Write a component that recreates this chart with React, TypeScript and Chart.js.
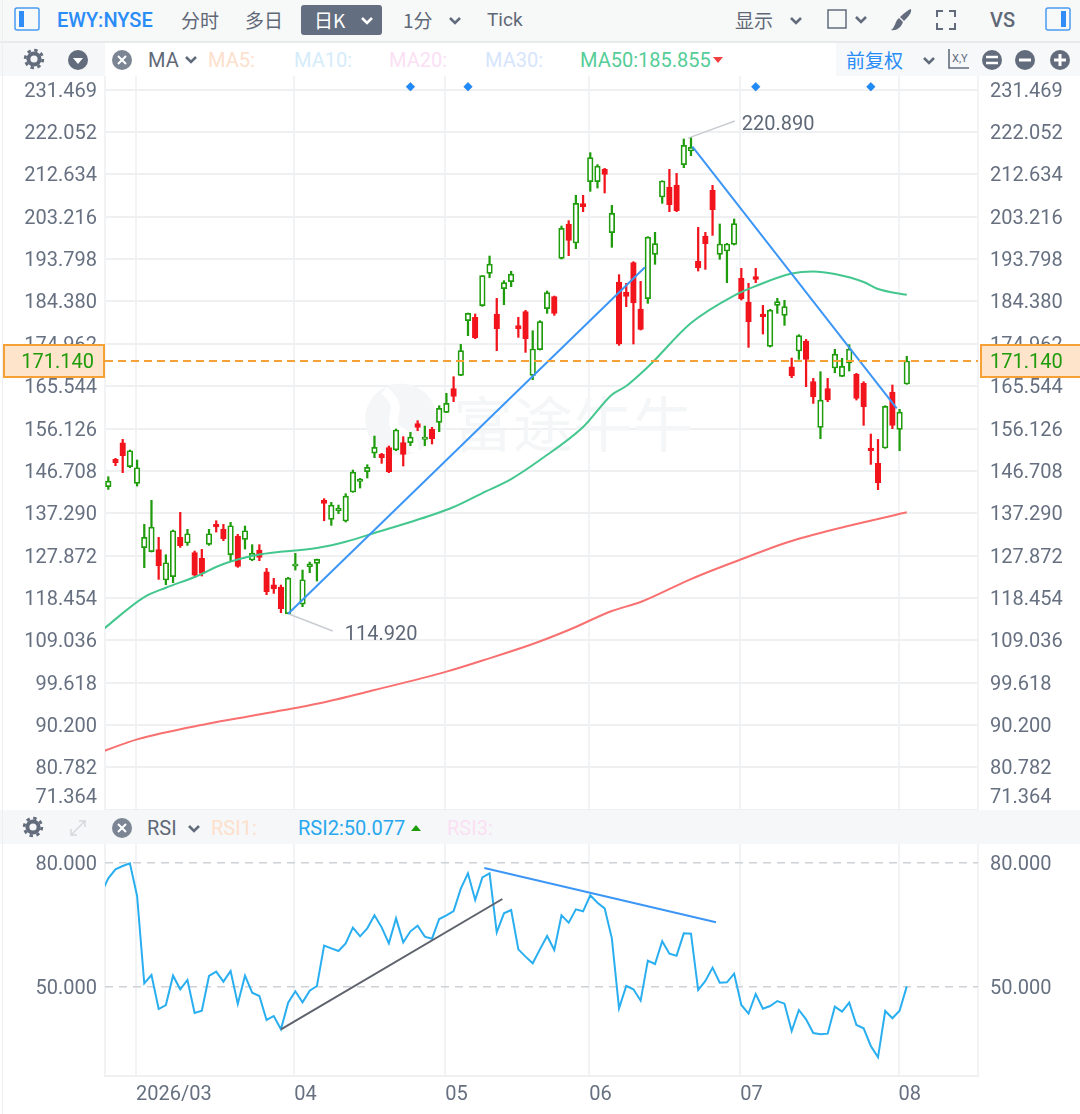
import { useEffect, useRef } from "react";
import Chart from "chart.js/auto";

const open = [143.19,149.26,152.97,147.63,143.93,129.62,128.73,129.18,122.43,123.17,131.92,130.66,128.51,127.25,130.36,134.88,133.70,128.06,132.21,131.47,126.88,129.10,124.28,121.39,120.87,114.94,125.54,117.09,125.39,126.14,140.15,135.92,137.85,135.55,142.00,144.37,146.52,150.67,150.38,151.87,151.35,152.98,152.97,157.20,153.72,155.94,157.50,159.72,164.98,167.95,180.11,180.85,183.44,190.63,181.59,187.22,188.78,178.99,182.11,167.95,173.66,182.78,185.44,193.97,201.61,197.38,206.13,211.02,211.02,213.76,199.68,188.71,186.48,193.01,182.70,185.00,194.86,207.61,209.83,210.28,214.80,217.84,193.30,198.94,209.09,194.86,195.60,197.08,189.52,184.26,189.89,181.59,174.40,183.51,181.29,169.87,173.36,175.58,166.54,156.38,164.98,169.58,167.72,170.69,168.17,166.17,151.79,148.38,151.79,164.24,155.94,166.02];
const high = [145.41,149.49,153.71,151.34,149.12,134.81,140.15,131.92,128.06,133.55,137.48,133.70,128.88,129.25,133.70,135.62,134.81,135.25,132.59,134.44,130.29,130.29,125.02,122.80,121.32,123.02,128.36,124.65,126.43,127.10,140.52,139.70,139.11,141.63,146.89,145.04,148.08,154.45,150.61,152.24,156.02,154.31,155.27,157.87,156.68,156.39,161.20,163.95,167.65,174.84,181.81,181.59,190.11,194.49,185.07,189.00,191.08,180.85,182.40,177.88,180.11,186.70,185.59,201.16,202.35,207.98,207.98,217.47,214.80,213.99,205.76,190.34,188.41,193.23,188.85,198.79,199.75,211.24,213.76,212.87,220.51,220.89,200.86,199.75,210.20,201.61,197.31,202.72,191.74,188.41,191.74,183.51,182.62,185.07,184.63,171.80,176.99,175.95,167.28,168.76,167.28,173.73,171.73,174.77,168.39,166.54,154.90,153.71,161.20,165.80,160.39,172.17];
const low = [142.59,147.86,146.30,147.41,143.33,125.17,128.66,122.58,121.39,121.84,129.69,130.14,122.95,123.32,130.14,133.10,131.18,126.73,125.25,129.32,126.73,126.73,119.17,119.46,115.16,114.92,124.65,116.50,124.06,122.21,135.62,134.59,137.18,135.33,141.93,142.89,145.11,149.64,148.38,146.31,151.20,147.79,152.31,155.64,152.31,152.68,155.42,159.65,162.09,167.88,176.77,176.10,183.29,189.67,173.43,183.66,187.67,176.40,173.06,166.99,173.58,181.74,181.29,193.82,194.56,196.12,204.35,208.87,209.61,208.50,196.42,174.62,183.22,174.92,178.03,183.96,192.64,206.20,204.35,204.35,214.13,216.80,191.15,191.52,199.08,193.75,188.56,196.94,184.70,174.17,188.56,177.14,174.25,181.74,179.07,167.43,171.51,165.43,161.72,153.86,162.09,168.54,167.65,168.91,162.46,156.83,148.15,142.52,151.71,156.09,151.19,165.95];
const close = [144.45,148.52,150.08,151.19,147.41,131.92,134.22,125.62,126.28,133.40,130.06,132.73,123.54,123.91,132.73,134.22,131.62,134.51,125.47,133.40,128.43,127.47,119.84,120.50,116.05,122.87,125.99,122.50,126.06,127.03,139.48,139.11,138.37,141.11,146.45,144.89,147.49,151.93,149.64,146.53,155.80,150.38,154.23,156.38,154.23,153.86,160.61,161.72,163.28,173.43,181.74,176.33,190.11,192.71,178.33,188.56,190.48,178.33,176.10,173.81,179.88,186.33,181.74,200.64,197.97,206.20,205.46,216.36,214.50,212.65,203.98,174.92,185.52,184.04,178.18,198.71,197.23,211.17,205.90,204.57,219.10,218.66,191.89,197.23,204.79,197.16,197.16,201.68,185.00,179.88,189.30,180.99,182.48,184.33,183.22,167.80,176.77,171.51,163.20,162.46,162.46,172.69,169.95,173.80,162.83,160.98,151.19,144.08,161.05,156.83,159.79,171.14];

const ma50Days = [-1,5,8,12,16,21,29,33,37,45,48,52,56,60,66,70,72,75,81,87,90,95,98,101,105,107,111];
const ma50 = [111.09,118.65,120.72,123.10,125.99,128.10,129.55,130.95,132.89,136.89,138.67,141.78,144.89,149.12,156.46,163.64,165.58,169.80,179.59,185.70,187.81,190.59,191.04,190.48,188.70,187.15,185.86];
const ma200Days = [-1,4,14,20,29,37,47,52,59,64,70,74,81,87,95,104,111];
const ma200 = [84.18,87.00,90.52,92.25,94.90,97.97,102.06,104.53,108.20,111.31,115.54,117.54,122.65,126.44,131.11,134.89,137.49];

const rsiDays = [-1,0,1,2,3,4,5,6,7,8,9,10,11,12,13,14,15,16,17,18,19,20,21,22,23,24,25,26,27,28,29,30,31,32,33,34,35,36,37,38,39,40,41,42,43,44,45,46,47,48,49,50,51,52,53,54,55,56,57,58,59,60,61,62,63,64,65,66,67,68,69,70,71,72,73,74,75,76,77,78,79,80,81,82,83,84,85,86,87,88,89,90,91,92,93,94,95,96,97,98,99,100,101,102,103,104,105,106,107,108,109,110,111];
const rsi = [72.6,76.22,78.40,79.20,79.85,71.95,50.82,52.83,44.60,45.57,52.67,49.37,51.62,43.64,44.20,52.59,53.64,51.22,53.80,45.82,52.67,48.56,47.75,41.95,42.91,39.69,46.14,48.88,46.22,49.04,50.17,59.93,59.28,58.64,60.49,64.28,62.19,64.12,67.27,64.36,60.49,66.54,60.74,63.40,64.77,62.11,61.62,66.38,67.27,68.32,73.72,77.43,70.98,76.46,77.43,63.16,67.75,68.56,59.04,57.27,55.66,59.04,62.27,58.88,67.27,65.49,68.72,68.24,72.11,70.33,68.96,61.70,44.77,50.17,49.37,46.62,56.30,55.49,60.98,58.00,57.51,62.91,62.83,49.20,51.38,54.61,50.98,51.06,53.16,45.57,43.48,48.24,44.69,45.33,46.54,45.90,39.28,44.36,42.11,38.80,38.48,38.64,45.17,43.96,46.14,40.74,39.93,35.65,32.91,44.12,42.35,44.20,50.08];

const priceTicks = [231.469,222.052,212.634,203.216,193.798,184.38,174.962,165.544,156.126,146.708,137.29,127.872,118.454,109.036,99.618,90.2,80.782,71.364];
const rsiTicks = [80, 50];
const monthDays = [3.85,25.85,46.85,66.85,87.85,109.85];
const monthLabels = ["2026/03","04","05","06","07","08"];
const markerDays = [42,50,90,106];
const markerLevel = 232.14;
const lastPrice = 171.14;

const riseTrend = { x: [25, 74.6], y: [114.92, 191.97] };
const fallTrend = { x: [81.2, 109.6], y: [218.79, 160.62] };
const lowLeader = { x: [25, 31.2], y: [114.92, 111.09], text: "114.920", gap: 12 };
const highLeader = { x: [80.6, 87.1], y: [220.7, 224.51], text: "220.890", gap: 7 };
const rsiRise = { x: [24, 54.78], y: [39.69, 71.22] };
const rsiFall = { x: [52.27, 84.48], y: [78.72, 65.58] };

const xMin = -0.46;
const xMax = 120.9;
const GRID = "#eef0f2";
const TEXT = "#667080";
const GREEN = "#1f9c0c";
const RED = "#f2141c";
const FONT = "Roboto, sans-serif";

const days = open.map((_, i) => i);
const pairs = (xs: number[], ys: number[]) => xs.map((x, i) => ({ x, y: ys[i] }));
const up = (i: number) => close[i] >= open[i];

const sideAxis = (position: string, width: number, show: boolean, ticks: number[], label: (v: number) => string, opts: any = {}) => ({
  position,
  grid: { drawOnChartArea: show, drawTicks: false, color: GRID, lineWidth: 2, ...opts.grid },
  border: { display: false, ...opts.border },
  ticks: {
    autoSkip: false,
    padding: position === "left" ? 8 : 12,
    labelOffset: 2,
    color: TEXT,
    font: { family: FONT, size: 20 },
    callback: label,
  },
  afterBuildTicks: (s: any) => {
    s.ticks = ticks.map((value) => ({ value }));
  },
  afterFit: (s: any) => {
    s.width = width;
    s.paddingTop = 0;
    s.paddingBottom = 0;
  },
  min: opts.min,
  max: opts.max,
});

const monthAxis = (height: number, showLabels: boolean) => ({
  type: "linear",
  min: xMin,
  max: xMax,
  offset: false,
  grid: { drawTicks: false, offset: false, color: "#f1f3f4", lineWidth: 2 },
  border: { display: showLabels, color: GRID, width: 2 },
  ticks: {
    display: showLabels,
    autoSkip: false,
    align: "start",
    maxRotation: 0,
    padding: 7,
    color: TEXT,
    font: { family: FONT, size: 20 },
    callback: (v: number) => monthLabels[monthDays.indexOf(v)] ?? "",
  },
  afterBuildTicks: (s: any) => {
    s.ticks = [xMin, ...monthDays, xMax].map((value) => ({ value }));
  },
  afterFit: (s: any) => {
    s.height = height;
    s.paddingLeft = 0;
    s.paddingRight = 0;
  },
});

const thinLine = (data: any[], color: string, width: number, order: number, dash: number[] = []) => ({
  type: "line",
  data,
  borderColor: color,
  borderWidth: width,
  borderDash: dash,
  pointRadius: 0,
  tension: 0,
  order,
});

const maLine = (data: any[], color: string) => ({
  ...thinLine(data, color, 2, 4),
  cubicInterpolationMode: "monotone",
});

const pricePlugin = {
  id: "priceOverlay",
  beforeDatasetsDraw(chart: any) {
    const { ctx } = chart;
    const top = chart.scales.y.getPixelForValue(156.126);
    ctx.save();
    ctx.fillStyle = "#f5f6f7";
    ctx.beginPath();
    ctx.arc(401, top - 9, 36, 0, Math.PI * 2);
    ctx.fill();
    ctx.strokeStyle = "#fff";
    ctx.lineWidth = 9;
    ctx.beginPath();
    ctx.moveTo(384, top - 38);
    ctx.bezierCurveTo(410, top - 18, 380, top - 8, 402, top + 4);
    ctx.bezierCurveTo(412, top + 10, 416, top + 14, 414, top + 24);
    ctx.stroke();
    ctx.font = '60px "Noto Sans CJK SC"';
    ctx.textBaseline = "middle";
    ctx.fillText("富途牛牛", 453, top - 4);
    ctx.restore();
  },
  afterDraw(chart: any) {
    const { ctx } = chart;
    const y = chart.scales.y;
    const tagY = y.getPixelForValue(lastPrice);
    ctx.save();
    ctx.font = `20px ${FONT}`;
    ctx.textBaseline = "middle";
    ctx.fillStyle = TEXT;
    for (const [x, align] of [[97, "right"], [990, "left"]] as [number, CanvasTextAlign][]) {
      ctx.textAlign = align;
      ctx.fillText(priceTicks[priceTicks.length - 1].toFixed(3), x, y.getPixelForValue(71.364) - 12);
    }
    for (const [x, w, tx, align] of [[4, 100, 94, "right"], [981, 100, 990, "left"]] as [number, number, number, CanvasTextAlign][]) {
      ctx.fillStyle = "#fde4ca";
      ctx.strokeStyle = "#f5a136";
      ctx.lineWidth = 2;
      ctx.fillRect(x, tagY - 16, w, 32);
      ctx.strokeRect(x, tagY - 16, w, 32);
      ctx.fillStyle = GREEN;
      ctx.textAlign = align;
      ctx.fillText(lastPrice.toFixed(3), tx, tagY + 2);
    }
    ctx.fillStyle = "#5f6877";
    ctx.textAlign = "left";
    for (const lead of [lowLeader, highLeader]) {
      const px = chart.scales.x.getPixelForValue(lead.x[1]);
      const py = y.getPixelForValue(lead.y[1]);
      ctx.fillText(lead.text, px + lead.gap, py + 4);
    }
    ctx.restore();
  },
};

function PriceChart() {
  const ref = useRef<HTMLCanvasElement>(null);

  useEffect(() => {
    if (!ref.current) return;
    const chart = new Chart(ref.current, {
      type: "bar",
      data: {
        datasets: [
          {
            data: days.map((x) => ({ x, y: [low[x], high[x]] })),
            backgroundColor: days.map((i) => (up(i) ? GREEN : RED)),
            barThickness: 1.6,
            grouped: false,
            order: 6,
          },
          {
            data: days.map((x) => ({ x, y: [open[x], close[x]] })),
            backgroundColor: days.map((i) => (up(i) ? "#fff" : RED)),
            borderColor: days.map((i) => (up(i) ? GREEN : RED)),
            borderWidth: 1.7,
            borderSkipped: false,
            barThickness: 5.6,
            grouped: false,
            order: 5,
          },
          maLine(pairs(ma200Days, ma200), "#f97070"),
          maLine(pairs(ma50Days, ma50), "#44c78e"),
          thinLine(pairs(lowLeader.x, lowLeader.y), "#c9cdd2", 1.5, 3),
          thinLine(pairs(highLeader.x, highLeader.y), "#c9cdd2", 1.5, 3),
          thinLine(pairs(riseTrend.x, riseTrend.y), "#3c96f6", 2, 2),
          thinLine(pairs(fallTrend.x, fallTrend.y), "#3c96f6", 2, 2),
          thinLine(pairs([xMin, xMax], [lastPrice, lastPrice]), "#f5a136", 1.8, 1, [8, 5]),
          {
            type: "scatter",
            data: markerDays.map((x) => ({ x, y: markerLevel })),
            backgroundColor: "#1f8bfa",
            pointStyle: "rectRot",
            pointRadius: 4.5,
            clip: false,
            order: 0,
          },
        ] as any,
      },
      options: {
        responsive: false,
        animation: false,
        layout: { padding: 0, autoPadding: false },
        plugins: { legend: { display: false }, tooltip: { enabled: false } },
        events: [],
        scales: {
          x: monthAxis(0, false) as any,
          y: sideAxis("left", 105, true, priceTicks, (v) => (v === 71.364 ? "" : v.toFixed(3)), {
            min: 71.29,
            max: 234.52,
          }) as any,
          y2: sideAxis("right", 102, false, priceTicks, (v) => (v === 71.364 ? "" : v.toFixed(3)), {
            min: 71.29,
            max: 234.52,
          }) as any,
        },
      },
      plugins: [pricePlugin],
    });
    return () => chart.destroy();
  }, []);

  return <canvas ref={ref} width={1080} height={734} style={{ position: "absolute", left: 0, top: 76 }} />;
}

function RsiChart() {
  const ref = useRef<HTMLCanvasElement>(null);

  useEffect(() => {
    if (!ref.current) return;
    const dashed = { grid: { color: "#ced1d6", lineWidth: 1.5 }, border: { display: false, dash: [8, 6] }, min: 28.39, max: 84.53 };
    const chart = new Chart(ref.current, {
      type: "line",
      data: {
        datasets: [
          thinLine(pairs(rsiDays, rsi), "#29aef0", 2, 3),
          thinLine(pairs(rsiRise.x, rsiRise.y), "#5e626d", 2, 2),
          thinLine(pairs(rsiFall.x, rsiFall.y), "#3c96f6", 2, 1),
        ] as any,
      },
      options: {
        responsive: false,
        animation: false,
        layout: { padding: 0, autoPadding: false },
        plugins: { legend: { display: false }, tooltip: { enabled: false } },
        events: [],
        scales: {
          x: monthAxis(38, true) as any,
          y: sideAxis("left", 105, true, rsiTicks, (v) => v.toFixed(3), dashed) as any,
          y2: sideAxis("right", 102, false, rsiTicks, (v) => v.toFixed(3), dashed) as any,
        },
      },
    });
    return () => chart.destroy();
  }, []);

  return <canvas ref={ref} width={1080} height={270} style={{ position: "absolute", left: 0, top: 844 }} />;
}

const ICON = "#626c7c";

const Txt = ({ x, y, color = "#5f6877", size = 20, weight = 400, family = FONT, children }: any) => (
  <span
    style={{
      position: "absolute",
      left: x,
      top: y - 15,
      height: 30,
      lineHeight: "30px",
      color,
      fontSize: size,
      fontWeight: weight,
      fontFamily: family,
      whiteSpace: "nowrap",
    }}
  >
    {children}
  </span>
);

const CJK = '"Noto Sans CJK SC", sans-serif';

const Svg = ({ x, y, w = 24, h = 24, children }: any) => (
  <svg width={w} height={h} viewBox={`0 0 ${w} ${h}`} style={{ position: "absolute", left: x - w / 2, top: y - h / 2 }}>
    {children}
  </svg>
);

const Chevron = ({ x, y, color = ICON }: any) => (
  <Svg x={x} y={y} w={14} h={10}>
    <path d="M2 2 L7 7 L12 2" fill="none" stroke={color} strokeWidth={2.6} />
  </Svg>
);

const Gear = ({ x, y }: any) => (
  <Svg x={x} y={y}>
    <circle cx={12} cy={12} r={5.6} fill="none" stroke={ICON} strokeWidth={4} />
    <circle cx={12} cy={12} r={8.8} fill="none" stroke={ICON} strokeWidth={2.8} strokeDasharray="3.4 3.5" />
  </Svg>
);

const CloseDisc = ({ x, y }: any) => (
  <Svg x={x} y={y}>
    <circle cx={12} cy={12} r={10} fill="#7b8594" />
    <path d="M8 8 L16 16 M16 8 L8 16" stroke="#fff" strokeWidth={2} />
  </Svg>
);

const Disc = ({ x, y, kind }: any) => (
  <Svg x={x} y={y}>
    <circle cx={12} cy={12} r={10} fill={ICON} />
    {kind === "minus" && <path d="M6 12 H18" stroke="#fff" strokeWidth={3} />}
    {kind === "equal" && <path d="M6 9 H18 M6 15 H18" stroke="#fff" strokeWidth={2.6} />}
    {kind === "plus" && <path d="M6 12 H18 M12 6 V18" stroke="#fff" strokeWidth={3} />}
  </Svg>
);

const Panel = ({ x, y, w, h, bg }: any) => (
  <div style={{ position: "absolute", left: x, top: y, width: w, height: h, background: bg }} />
);

function Toolbars() {
  return (
    <>
      <Panel x={0} y={0} w={1080} h={41} bg="#f7f8f8" />
      <Panel x={0} y={41} w={1080} h={2} bg="#e8eaec" />
      <Panel x={0} y={43} w={105} h={33} bg="#f6f7f8" />
      <Panel x={836} y={43} w={244} h={33} bg="#f6f8f9" />
      <Panel x={0} y={810} w={1080} h={34} bg="#f6f7f8" />
      <Panel x={2} y={0} w={1} h={1114} bg="#eceef0" />

      <Svg x={27} y={20} w={26} h={26}>
        <rect x={1} y={1} width={24} height={22} rx={2} fill="none" stroke="#4a9bf5" strokeWidth={1.5} />
        <rect x={5} y={4} width={5} height={16} fill="#2f8df5" />
      </Svg>
      <Txt x={57} y={20} color="#2a8cf7" weight={500}>EWY:NYSE</Txt>
      <Txt x={181} y={20} family={CJK} size={19}>分时</Txt>
      <Txt x={245} y={20} family={CJK} size={19}>多日</Txt>
      <div style={{ position: "absolute", left: 301, top: 5, width: 81, height: 30, background: "#636e80", borderRadius: 3 }} />
      <Txt x={314} y={20} color="#fff" family={CJK} size={19}>日K</Txt>
      <Chevron x={367} y={21} color="#fff" />
      <Txt x={403} y={20} family={CJK} size={19}>1分</Txt>
      <Chevron x={455} y={21} />
      <Txt x={487} y={20} size={19}>Tick</Txt>

      <Txt x={735} y={20} family={CJK} size={19}>显示</Txt>
      <Chevron x={796} y={21} />
      <Svg x={837} y={19} w={22} h={22}>
        <rect x={2} y={2} width={18} height={18} fill="none" stroke={ICON} strokeWidth={1.5} />
      </Svg>
      <Chevron x={861} y={20} />
      <Svg x={901} y={20}>
        <path d="M22 1 C23 5 19 9 15 13 L11 9 C15 5 19 2 22 1 Z M10 10 L14 14 C12 20 7 23 2 22 C6 20 6 13 10 10 Z" fill={ICON} />
      </Svg>
      <Svg x={946} y={20}>
        <path d="M3 9 V3 H9 M15 3 H21 V9 M21 15 V21 H15 M9 21 H3 V15" fill="none" stroke={ICON} strokeWidth={2} />
      </Svg>
      <Txt x={990} y={20} weight={500}>VS</Txt>
      <Svg x={1058} y={20} w={26} h={26}>
        <rect x={1} y={1} width={24} height={22} rx={2} fill="none" stroke="#4a9bf5" strokeWidth={1.5} />
        <rect x={16} y={4} width={5} height={16} fill="#2f8df5" />
      </Svg>

      <Gear x={34} y={59} />
      <Svg x={78} y={60}>
        <circle cx={12} cy={12} r={10} fill={ICON} />
        <path d="M7 10 H17 L12 16 Z" fill="#fff" />
      </Svg>
      <CloseDisc x={122} y={60} />
      <Txt x={148} y={60}>MA</Txt>
      <Chevron x={191} y={60} />
      <Txt x={208} y={60} color="#fde0cb">MA5:</Txt>
      <Txt x={294} y={60} color="#d5ecfb">MA10:</Txt>
      <Txt x={389} y={60} color="#fbdff5">MA20:</Txt>
      <Txt x={485} y={60} color="#d6e5fd">MA30:</Txt>
      <Txt x={580} y={60} color="#55cd97">MA50:185.855</Txt>
      <Svg x={718} y={60} w={12} h={8}>
        <path d="M1 1 H11 L6 7 Z" fill="#f04040" />
      </Svg>
      <Txt x={846} y={60} color="#2a8cf7" family={CJK} size={19}>前复权</Txt>
      <Chevron x={929} y={61} />
      <Svg x={958} y={60} w={24} h={24}>
        <path d="M3 1 V20 H23" fill="none" stroke={ICON} strokeWidth={1.6} />
        <text x={6} y={14} fontSize={11} fontFamily={FONT} fill={ICON}>X,Y</text>
      </Svg>
      <Disc x={992} y={60} kind="equal" />
      <Disc x={1025} y={60} kind="minus" />
      <Disc x={1060} y={60} kind="plus" />

      <Gear x={33} y={827} />
      <Svg x={78} y={828} w={20} h={20}>
        <path d="M11 3 H17 V9 M9 17 H3 V11 M16 4 L4 16" fill="none" stroke="#d3d7dc" strokeWidth={1.4} />
      </Svg>
      <CloseDisc x={122} y={828} />
      <Txt x={147} y={828}>RSI</Txt>
      <Chevron x={194} y={829} />
      <Txt x={211} y={828} color="#fde0cb">RSI1:</Txt>
      <Txt x={298} y={828} color="#28a8ee">RSI2:50.077</Txt>
      <Svg x={416} y={828} w={12} h={8}>
        <path d="M1 7 H11 L6 1 Z" fill="#1f9c0c" />
      </Svg>
      <Txt x={447} y={828} color="#fbdff5">RSI3:</Txt>
    </>
  );
}

export default function App() {
  useEffect(() => {
    document.body.style.margin = "0";
  }, []);

  return (
    <div style={{ position: "relative", width: 1080, height: 1114, background: "#fff", overflow: "hidden" }}>
      <PriceChart />
      <RsiChart />
      <Toolbars />
    </div>
  );
}
